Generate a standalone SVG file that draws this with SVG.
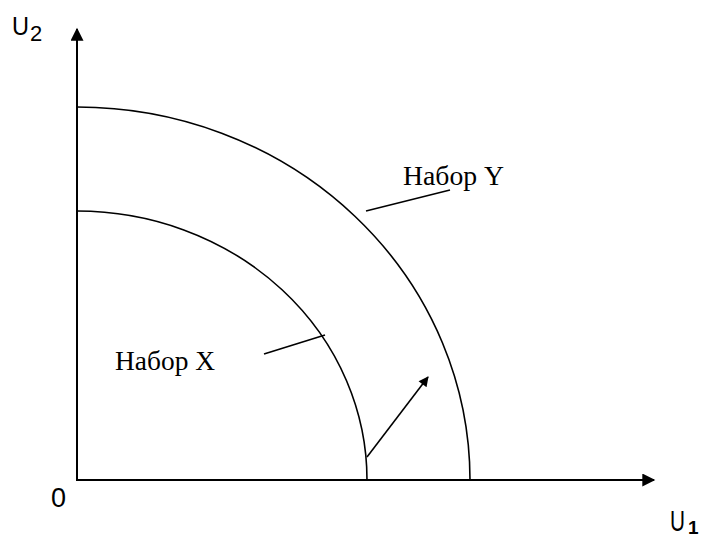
<svg xmlns="http://www.w3.org/2000/svg" width="705" height="537" viewBox="0 0 705 537">
<style>
.ax{stroke:#000;stroke-width:2;fill:none}
.ln{stroke:#000;stroke-width:1.6;fill:none}
.lbl{font-family:"Liberation Serif","Times New Roman",serif;font-size:27px;fill:#000}
.sans{font-family:"Liberation Sans",Arial,sans-serif;fill:#000}
</style>
<defs>
<marker id="ah" viewBox="0 0 10 10" refX="9" refY="5" markerWidth="14" markerHeight="13" markerUnits="userSpaceOnUse" orient="auto"><path d="M0,0L10,5L0,10z" fill="#000"/></marker>
<marker id="ah2" viewBox="0 0 10 10" refX="9" refY="5" markerWidth="12" markerHeight="10" markerUnits="userSpaceOnUse" orient="auto"><path d="M0,0L10,5L0,10z" fill="#000"/></marker>
</defs>
<g id="axes">
<line class="ax" x1="77" y1="481" x2="77" y2="29" marker-end="url(#ah)"/>
<line class="ax" x1="76" y1="480" x2="654" y2="480" marker-end="url(#ah)"/>
</g>
<g id="setY">
<path class="ln" d="M77,107 A393,373 0 0 1 470,480"/>
<text class="lbl" x="403" y="185" textLength="101" lengthAdjust="spacingAndGlyphs">Набор Y</text>
</g>
<g id="setX">
<path class="ln" d="M77,211 A290,269 0 0 1 367,480"/>
<text class="lbl" x="115" y="370" textLength="100" lengthAdjust="spacingAndGlyphs">Набор X</text>
</g>
<g id="connectors">
<line class="ln" x1="366" y1="211" x2="450" y2="190"/>
<line class="ln" x1="264" y1="354" x2="325" y2="335"/>
<line class="ln" x1="367" y1="457" x2="428" y2="377" marker-end="url(#ah2)"/>
</g>
<g id="labels">
<text class="sans" x="12" y="35" font-size="25" textLength="17" lengthAdjust="spacingAndGlyphs">U</text>
<text class="sans" x="30" y="41" font-size="22">2</text>
<text class="sans" x="51" y="507" font-size="27">0</text>
<text class="sans" x="670" y="531" font-size="30" textLength="15" lengthAdjust="spacingAndGlyphs">U</text>
<text class="sans" x="688" y="534" font-size="19" font-weight="bold">1</text>
</g>
</svg>
